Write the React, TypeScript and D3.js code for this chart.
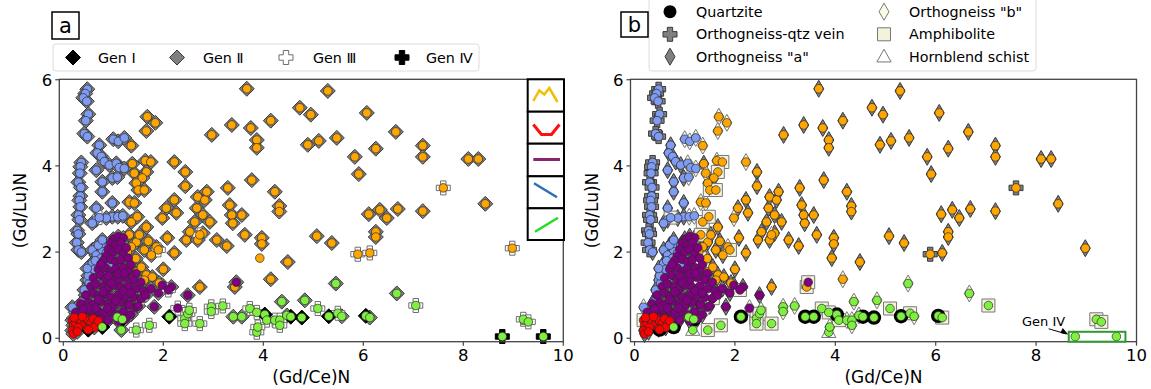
import React from 'react';
import * as d3 from 'd3';

type Pt = [number, number, number, string];

const xTicks = [0, 2, 4, 6, 8, 10];
const yTicks = [0, 2, 4, 6];
const genLabels = ['Gen \u2160', 'Gen \u2161', 'Gen \u2162', 'Gen \u2163'];
const rockLabels = ['Quartzite', 'Orthogneiss-qtz vein', 'Orthogneiss "a"', 'Orthogneiss "b"', 'Amphibolite', 'Hornblend schist'];
const rockCodes = ['Q', 'V', 'A', 'B', 'M', 'H'];

// descending pattern (blue)
const descendingPts: Pt[] = [
  [0.48,5.78,2,'V'],[0.44,5.68,2,'V'],[0.40,5.58,2,'V'],[0.47,5.50,2,'V'],[0.50,5.20,2,'V'],[0.45,5.05,2,'V'],
  [0.42,4.75,2,'V'],[0.48,4.68,2,'V'],[0.36,4.08,2,'V'],[0.34,3.98,2,'V'],[0.33,3.83,2,'V'],[0.30,3.62,2,'V'],
  [0.35,3.50,2,'V'],[0.34,3.30,2,'V'],[0.32,3.20,2,'V'],[0.34,3.05,2,'V'],[0.30,2.86,2,'V'],[0.32,2.75,2,'V'],
  [0.28,2.50,2,'V'],[0.30,2.42,2,'V'],[0.27,2.22,2,'V'],[0.30,2.05,2,'V'],
  [1.00,4.62,2,'B'],[1.10,4.57,2,'B'],[1.22,4.65,2,'B'],[0.72,4.48,2,'A'],[0.68,4.30,2,'A'],[0.76,4.22,2,'A'],
  [0.82,4.10,2,'A'],[0.66,3.90,2,'A'],[0.92,4.02,2,'A'],[1.06,4.06,2,'B'],[1.12,3.96,2,'B'],[1.22,3.94,2,'B'],
  [0.98,3.72,2,'A'],[1.08,3.74,2,'B'],[0.78,3.63,2,'A'],[0.78,3.40,2,'A'],[0.66,3.02,2,'A'],[0.98,3.14,2,'A'],
  [0.98,2.82,2,'A'],[0.86,2.79,2,'A'],[1.09,2.82,2,'B'],[1.19,2.84,2,'B'],[0.66,2.75,2,'A'],[0.58,2.67,2,'A'],
  [0.72,2.80,3,'M'],
  [0.36,2.00,2,'A'],[0.58,2.05,2,'A'],[0.66,1.93,2,'A'],[0.78,2.05,2,'A'],[0.76,1.86,2,'A'],[0.86,1.81,2,'A'],
  [0.58,1.74,2,'A'],[0.68,1.65,2,'A'],[0.78,1.67,2,'A'],[0.92,1.70,2,'A'],[0.56,1.51,2,'A'],[0.66,1.42,2,'A'],
  [0.48,1.35,2,'A'],[0.52,1.28,2,'A'],[0.42,1.12,2,'A'],[0.46,1.00,2,'A'],[0.38,0.84,2,'A'],[0.18,0.72,2,'B'],
  [0.78,2.20,2,'A'],[0.92,2.16,2,'A'],[0.70,2.16,2,'A'],[0.86,1.98,2,'A'],[0.78,2.28,2,'A'],[0.72,1.55,2,'A'],
  [0.62,1.60,2,'A'],[0.50,1.45,2,'A'],[0.95,1.92,2,'A'],[1.05,2.08,2,'A'],[0.64,1.80,2,'A'],[0.48,1.62,2,'A'],
  [0.88,1.55,2,'A']
];

// M-shaped pattern (orange)
const mShapePts: Pt[] = [
  [3.67,5.79,2,'A'],[5.29,5.74,2,'A'],[4.73,5.35,2,'A'],[4.95,5.19,2,'A'],[6.07,5.23,2,'A'],[4.15,5.05,2,'A'],
  [3.37,4.95,2,'A'],[3.75,4.88,2,'A'],[2.97,4.72,2,'A'],[3.87,4.60,2,'A'],[3.87,4.42,2,'A'],[6.65,4.79,2,'A'],
  [4.89,4.49,2,'A'],[5.11,4.58,2,'A'],[5.47,4.65,2,'A'],[6.25,4.40,2,'A'],[5.83,4.21,2,'A'],[7.19,4.47,2,'A'],
  [7.19,4.21,2,'A'],[5.91,3.81,2,'A'],[8.10,4.16,2,'A'],[8.30,4.16,2,'A'],[7.60,3.49,3,'V'],[8.44,3.12,2,'A'],
  [4.32,3.07,2,'A'],[4.32,2.94,2,'A'],[6.11,2.88,2,'A'],[6.33,2.98,2,'A'],[6.47,2.79,2,'A'],[6.69,3.00,2,'A'],
  [7.19,2.95,2,'A'],[6.25,2.47,2,'A'],[6.25,2.35,2,'A'],[5.07,2.37,2,'A'],[5.37,2.21,2,'A'],[5.89,1.95,3,'V'],
  [6.13,1.98,3,'A'],[4.49,1.77,2,'A'],[8.98,2.09,3,'A'],
  [1.68,5.14,2,'B'],[1.84,5.00,2,'B'],[1.66,4.81,2,'B'],[1.36,4.47,2,'B'],[2.22,4.09,2,'B'],[1.64,4.12,2,'B'],
  [1.75,4.09,2,'M'],[1.38,4.05,2,'A'],[1.42,3.83,2,'B'],[1.66,3.86,2,'M'],[1.58,3.72,2,'A'],[1.46,3.60,2,'A'],
  [1.50,3.44,2,'M'],[1.62,3.44,2,'M'],[2.44,3.86,2,'A'],[2.44,3.53,2,'A'],[3.29,3.49,2,'A'],[3.77,3.67,2,'A'],
  [4.23,3.40,2,'A'],[1.32,3.16,2,'B'],[1.42,3.14,2,'B'],[1.36,2.70,2,'M'],[1.48,2.82,2,'M'],[1.66,2.58,2,'A'],
  [2.06,3.02,2,'A'],[2.22,3.21,2,'A'],[2.26,2.91,2,'A'],[1.98,2.79,2,'B'],[2.67,3.02,2,'A'],[2.69,3.28,2,'A'],
  [2.83,3.21,2,'A'],[2.87,3.40,2,'A'],[2.79,2.86,2,'A'],[2.93,2.70,2,'A'],[2.63,2.70,2,'A'],[3.33,3.09,2,'A'],
  [3.37,2.86,2,'A'],[3.39,2.67,2,'A'],[3.57,2.86,2,'A'],[2.53,2.47,2,'A'],[2.46,2.28,2,'A'],[2.79,2.44,2,'A'],
  [2.69,2.28,2,'A'],[3.07,2.28,2,'A'],[3.27,2.14,2,'A'],[3.63,2.40,2,'A'],[3.97,2.33,2,'A'],[3.97,2.19,2,'A'],
  [3.93,1.86,0,'A'],[2.08,2.33,2,'A'],[1.86,2.12,2,'B'],[2.22,1.98,2,'A'],[1.76,1.93,2,'A'],[1.62,2.05,2,'A'],
  [1.46,2.23,2,'A'],[1.32,2.40,2,'M'],[1.52,2.40,2,'A'],[1.36,2.12,2,'A'],[1.36,1.74,2,'M'],[1.46,1.54,2,'A'],
  [1.56,1.65,2,'A'],[1.66,1.47,2,'A'],[1.78,1.42,2,'A'],[1.62,1.35,2,'A'],[1.92,1.28,2,'A'],[2.73,1.19,2,'A'],
  [3.43,1.19,2,'M'],[4.15,1.37,2,'B'],[1.90,2.05,3,'M'],[1.28,2.00,2,'A'],[1.45,1.85,2,'A'],[1.70,2.25,2,'A'],
  [2.00,1.60,2,'A'],[2.73,2.40,3,'B']
];

// flat pattern (purple)
const flatPts: Pt[] = [
  [1.00,2.30,2,'A'],[1.10,2.36,2,'A'],[1.20,2.33,2,'A'],[0.95,2.20,2,'A'],[1.05,2.16,2,'A'],[1.15,2.22,2,'A'],
  [0.90,2.06,2,'A'],[1.00,2.00,2,'A'],[1.10,2.06,2,'A'],[1.20,1.96,2,'A'],[1.26,2.10,2,'A'],[0.85,1.90,2,'A'],
  [0.80,1.80,2,'A'],[0.95,1.83,2,'A'],[1.05,1.78,2,'A'],[1.15,1.82,2,'A'],[1.30,1.86,2,'M'],[1.35,1.70,2,'A'],
  [0.70,1.60,2,'A'],[0.85,1.63,2,'A'],[0.95,1.55,2,'A'],[1.05,1.62,2,'A'],[1.20,1.64,2,'A'],[1.30,1.55,2,'A'],
  [1.45,1.50,2,'A'],[0.60,1.40,2,'A'],[0.75,1.46,2,'A'],[0.85,1.38,2,'A'],[1.00,1.43,2,'A'],[1.10,1.35,2,'A'],
  [1.25,1.41,2,'A'],[1.40,1.35,2,'A'],[1.55,1.30,2,'A'],[0.55,1.20,2,'A'],[0.65,1.26,2,'A'],[0.80,1.20,2,'A'],
  [0.90,1.15,2,'A'],[1.00,1.23,2,'A'],[1.15,1.18,2,'A'],[1.30,1.21,2,'M'],[1.45,1.15,2,'A'],[1.60,1.10,2,'A'],
  [0.45,1.00,2,'A'],[0.60,1.05,2,'A'],[0.70,0.98,2,'A'],[0.85,1.03,2,'A'],[0.95,0.95,2,'A'],[1.10,1.00,2,'A'],
  [1.25,0.98,2,'A'],[1.40,0.95,2,'A'],[1.55,0.92,2,'A'],[0.35,0.80,2,'A'],[0.50,0.83,2,'A'],[0.60,0.78,2,'A'],
  [0.75,0.86,2,'A'],[0.90,0.80,2,'A'],[1.00,0.75,2,'A'],[1.15,0.83,2,'A'],[1.30,0.78,2,'A'],[1.45,0.72,2,'B'],
  [0.25,0.60,2,'A'],[0.35,0.63,2,'A'],[0.45,0.58,2,'A'],[0.55,0.66,2,'A'],[0.70,0.62,2,'A'],[0.80,0.58,2,'A'],
  [0.95,0.61,2,'A'],[1.05,0.55,2,'A'],[1.20,0.62,2,'A'],[1.35,0.55,2,'A'],[0.30,0.46,2,'A'],[0.40,0.51,2,'A'],
  [0.60,0.48,2,'A'],[0.75,0.45,2,'A'],[0.90,0.42,2,'A'],[1.10,0.40,2,'A'],[1.25,0.45,2,'A'],[0.65,0.70,2,'A'],
  [0.95,1.30,2,'A'],[1.10,1.50,2,'A'],[0.80,1.08,2,'A'],[1.05,0.88,2,'A'],[1.20,1.10,2,'A'],[0.70,0.90,2,'A'],
  [0.50,0.70,2,'A'],[0.40,0.68,2,'A'],[0.88,0.70,2,'A'],[1.35,1.05,2,'A'],[1.22,1.50,2,'A'],[0.75,1.72,2,'A'],
  [0.90,1.45,2,'A'],
  [1.98,1.23,2,'A'],[2.16,1.19,2,'A'],[2.10,1.12,3,'M'],[2.49,1.00,2,'A'],[1.82,0.73,2,'A'],[1.56,0.93,3,'M'],
  [1.32,0.77,2,'A'],[2.29,0.70,3,'B'],[3.46,1.30,2,'M'],[1.75,1.15,2,'A'],[1.90,1.05,2,'A'],[1.65,1.00,2,'A'],
  [1.50,0.75,2,'A']
];

// U-shaped pattern (red)
const uShapePts: Pt[] = [
  [0.18,0.42,2,'M'],[0.20,0.30,2,'A'],[0.18,0.18,2,'A'],[0.20,0.10,2,'A'],[0.25,0.35,2,'A'],[0.30,0.45,2,'A'],
  [0.35,0.38,2,'A'],[0.40,0.30,2,'A'],[0.45,0.45,2,'A'],[0.50,0.40,2,'A'],[0.55,0.35,2,'A'],[0.60,0.45,2,'A'],
  [0.65,0.32,2,'A'],[0.48,0.22,2,'A'],[0.62,0.25,2,'A'],[0.30,0.25,2,'A'],[0.22,0.48,2,'A'],[0.38,0.50,2,'A'],
  [0.70,0.40,2,'A'],[0.28,0.15,2,'A'],[0.50,0.20,1,'Q']
];

// ascending pattern (green)
const ascendingPts: Pt[] = [
  [0.78,0.26,1,'Q'],[1.08,0.49,2,'B'],[1.18,0.44,1,'Q'],[1.16,0.19,2,'H'],[1.46,0.19,3,'M'],[1.72,0.30,3,'M'],
  [2.12,0.50,1,'Q'],[2.43,0.46,3,'M'],[2.49,0.57,3,'M'],[2.52,0.65,3,'B'],[2.43,0.34,3,'M'],[2.73,0.34,3,'M'],
  [2.96,0.73,3,'B'],[2.96,0.62,3,'B'],[3.19,0.75,3,'B'],[3.40,0.50,2,'Q'],[3.57,0.50,2,'Q'],[3.73,0.69,3,'M'],
  [3.87,0.60,3,'M'],[4.03,0.55,1,'Q'],[4.07,0.42,3,'M'],[3.87,0.14,3,'H'],[3.89,0.26,3,'B'],[4.23,0.42,3,'B'],
  [4.33,0.42,3,'B'],[4.37,0.85,2,'B'],[4.47,0.53,2,'B'],[4.33,0.30,3,'B'],[4.55,0.50,1,'Q'],[4.77,0.48,1,'Q'],
  [4.83,0.88,2,'B'],[5.09,0.69,3,'M'],[5.31,0.51,1,'Q'],[5.45,1.27,2,'B'],[5.49,0.58,3,'M'],[5.57,0.51,2,'B'],
  [6.05,0.52,1,'Q'],[6.13,0.48,2,'M'],[6.67,1.04,2,'B'],[7.05,0.76,3,'M'],[9.20,0.44,3,'M'],[9.30,0.38,3,'M'],
  [8.78,0.04,4,'N'],[9.60,0.04,4,'N']
];

const groups = [
  { pts: mShapePts, color: '#ffa500' },
  { pts: descendingPts, color: '#7f9cf2' },
  { pts: flatPts, color: '#800080' },
  { pts: uShapePts, color: '#ff0000' },
  { pts: ascendingPts, color: '#80f040' }
];

const allPts: Pt[] = groups.flatMap(g => g.pts);

const FONT = '"DejaVu Sans", Verdana, sans-serif';

const diamondPath = (s: number) => `M0,${-s}L${s},0L0,${s}L${-s},0Z`;
const thinDiamondPath = (w: number, h: number) => `M0,${-h}L${w},0L0,${h}L${-w},0Z`;
const plusPath = (L: number, w: number) =>
  `M${-w},${-L}H${w}V${-w}H${L}V${w}H${w}V${L}H${-w}V${w}H${-L}V${-w}H${-w}Z`;
const squarePath = (s: number) => `M${-s},${-s}H${s}V${s}H${-s}Z`;
const trianglePath = (s: number) => `M0,${-s}L${s * 0.95},${s * 0.7}L${-s * 0.95},${s * 0.7}Z`;

function GenMarker({ gen, cx, cy }: { gen: number; cx: number; cy: number }) {
  const t = `translate(${cx},${cy})`;
  if (gen === 1) return <path transform={t} d={diamondPath(7.5)} fill="#000" stroke="#000" strokeWidth={1} />;
  if (gen === 2) return <path transform={t} d={diamondPath(7.5)} fill="#808080" stroke="#3a3a3a" strokeWidth={1} />;
  if (gen === 3) return <path transform={t} d={plusPath(7, 2.7)} fill="#fff" stroke="#6e6e6e" strokeWidth={1} />;
  if (gen === 4) return <path transform={t} d={plusPath(7, 2.7)} fill="#000" stroke="#000" strokeWidth={1} />;
  return null;
}

function RockMarker({ rock, cx, cy }: { rock: string; cx: number; cy: number }) {
  const t = `translate(${cx},${cy})`;
  if (rock === 'Q') return <circle cx={cx} cy={cy} r={7.2} fill="#000" />;
  if (rock === 'V') return <path transform={t} d={plusPath(7, 2.7)} fill="#808080" stroke="#3a3a3a" strokeWidth={1} />;
  if (rock === 'A') return <path transform={t} d={thinDiamondPath(5, 8.5)} fill="#808080" stroke="#3a3a3a" strokeWidth={1} />;
  if (rock === 'B') return <path transform={t} d={thinDiamondPath(5, 8.5)} fill="#fbfbe3" stroke="#777" strokeWidth={1} />;
  if (rock === 'M') return <path transform={t} d={squarePath(6.5)} fill="#f3f3dc" stroke="#777" strokeWidth={1} />;
  if (rock === 'H') return <path transform={t} d={trianglePath(7.5)} fill="#fff" stroke="#777" strokeWidth={1} />;
  return null;
}

function Panel({ mode, x0, x1 }: { mode: 'a' | 'b'; x0: number; x1: number }) {
  const x = d3.scaleLinear().domain([-0.08, 10]).range([x0, x1]);
  const y = d3.scaleLinear().domain([-0.08, 6.01]).range([341.7, 79.3]);
  const genOrder = [2, 3, 1, 4];
  const rockOrder = ['A', 'B', 'V', 'M', 'H', 'Q'];
  const top = y.range()[1];
  const bottom = y.range()[0];
  const midX = (x0 + x1) / 2;
  return (
    <g>
      {mode === 'a'
        ? genOrder.map(g =>
            allPts.filter(p => p[2] === g).map((p, i) => (
              <GenMarker key={`g${g}-${i}`} gen={g} cx={x(p[0])} cy={y(p[1])} />
            ))
          )
        : rockOrder.map(r =>
            allPts.filter(p => p[3] === r).map((p, i) => (
              <RockMarker key={`r${r}-${i}`} rock={r} cx={x(p[0])} cy={y(p[1])} />
            ))
          )}
      {groups.map((g, gi) =>
        g.pts.map((p, i) => (
          <circle key={`c${gi}-${i}`} cx={x(p[0])} cy={y(p[1])} r={4.3} fill={g.color} stroke="#2a2a2a" strokeWidth={0.7} />
        ))
      )}
      <rect x={x0} y={top} width={x1 - x0} height={bottom - top} fill="none" stroke="#444" strokeWidth={1.3} />
      {xTicks.map(t => (
        <g key={`xt${t}`}>
          <line x1={x(t)} x2={x(t)} y1={bottom} y2={bottom + 4} stroke="#444" strokeWidth={1.2} />
          <text x={x(t)} y={bottom + 19} textAnchor="middle" fontSize={16.5} fontFamily={FONT} fill="#000">{t}</text>
        </g>
      ))}
      {yTicks.map(t => (
        <g key={`yt${t}`}>
          <line x1={x0 - 4} x2={x0} y1={y(t)} y2={y(t)} stroke="#444" strokeWidth={1.2} />
          <text x={x0 - 7} y={y(t) + 6} textAnchor="end" fontSize={16.5} fontFamily={FONT} fill="#000">{t}</text>
        </g>
      ))}
      <text x={midX} y={383} textAnchor="middle" fontSize={17} fontFamily={FONT} fill="#000">(Gd/Ce)N</text>
      <text transform={`translate(${x0 - 33},${(top + bottom) / 2}) rotate(-90)`} textAnchor="middle" fontSize={17} fontFamily={FONT} fill="#000">(Gd/Lu)N</text>
      {mode === 'b' && (
        <g>
          <rect x={x(8.65)} y={y(0.15)} width={x(9.78) - x(8.65)} height={bottom - y(0.15)} fill="none" stroke="#2e9a2e" strokeWidth={2} />
          <text x={x(7.72)} y={y(0.29)} fontSize={13} fontFamily={FONT} fill="#000">Gen IV</text>
          <line x1={x(8.25)} y1={y(0.22)} x2={x(8.6)} y2={y(0.1)} stroke="#000" strokeWidth={1} />
          <path d={`M${x(8.64)},${y(0.085)}l-8,-1.5l2.5,-5z`} fill="#000" />
        </g>
      )}
    </g>
  );
}

function IconStack() {
  const left = 527.7, right = 564;
  const edges = [79.3, 111.7, 143.7, 176.3, 208.3, 240];
  return (
    <g>
      {edges.slice(0, 5).map((e, i) => (
        <rect key={i} x={left} y={e} width={right - left} height={edges[i + 1] - e} fill="#fff" stroke="#000" strokeWidth={2} />
      ))}
      <polyline points="533.3,101 539.3,90.5 544.3,94.5 549.3,88 557.5,102" fill="none" stroke="#f0c000" strokeWidth={2.5} />
      <polyline points="533.3,124.5 541.5,134.5 551.5,134.5 559.5,124.5" fill="none" stroke="#ff1010" strokeWidth={3} />
      <line x1={533.3} x2={560} y1={159.5} y2={159.5} stroke="#8a2470" strokeWidth={3} />
      <line x1={534} x2={557} y1={183.3} y2={197.3} stroke="#2f6db5" strokeWidth={2.5} />
      <line x1={535} x2={558} y1={231.7} y2={217.7} stroke="#22dd22" strokeWidth={2.5} />
    </g>
  );
}

function LegendA() {
  const mx = [73, 177, 286, 402];
  const tx = [98, 203, 313, 426];
  return (
    <g>
      <rect x={53} y={44} width={426} height={27} rx={3} fill="#fff" stroke="#dcdcdc" strokeWidth={1} />
      {genLabels.map((lab, i) => (
        <g key={lab}>
          <GenMarker gen={i + 1} cx={mx[i]} cy={57.5} />
          <text x={tx[i]} y={62.5} fontSize={14.3} fontFamily={FONT} fill="#000">{lab}</text>
        </g>
      ))}
    </g>
  );
}

function LegendB() {
  const rows = [11.7, 34.3, 56.7];
  return (
    <g>
      <rect x={649} y={-6} width={387} height={77} rx={3} fill="#fff" stroke="#dcdcdc" strokeWidth={1} />
      {rockLabels.map((lab, i) => {
        const col = i < 3 ? 0 : 1;
        const row = i % 3;
        const mxp = col === 0 ? 670 : 884;
        const txp = col === 0 ? 696 : 909;
        return (
          <g key={lab}>
            {rockCodes[i] === 'Q'
              ? <circle cx={mxp} cy={rows[row]} r={6.5} fill="#000" />
              : <RockMarker rock={rockCodes[i]} cx={mxp} cy={rows[row]} />}
            <text x={txp} y={rows[row] + 5} fontSize={14.3} fontFamily={FONT} fill="#000">{lab}</text>
          </g>
        );
      })}
    </g>
  );
}

export default function App() {
  return (
    <svg width={1151} height={389} style={{ position: 'absolute', left: 0, top: 0, background: '#fff' }}>
      <rect width={1151} height={389} fill="#fff" />
      <Panel mode="a" x0={59.3} x1={563.3} />
      <Panel mode="b" x0={630.5} x1={1136.5} />
      <IconStack />
      <LegendA />
      <LegendB />
      <rect x={52} y={12} width={27} height={27} fill="#fff" stroke="#000" strokeWidth={1.5} />
      <text x={65.5} y={33} textAnchor="middle" fontSize={21} fontFamily={FONT} fill="#000">a</text>
      <rect x={621} y={12} width={27} height={25} fill="#fff" stroke="#000" strokeWidth={1.5} />
      <text x={634.5} y={32} textAnchor="middle" fontSize={21} fontFamily={FONT} fill="#000">b</text>
    </svg>
  );
}
